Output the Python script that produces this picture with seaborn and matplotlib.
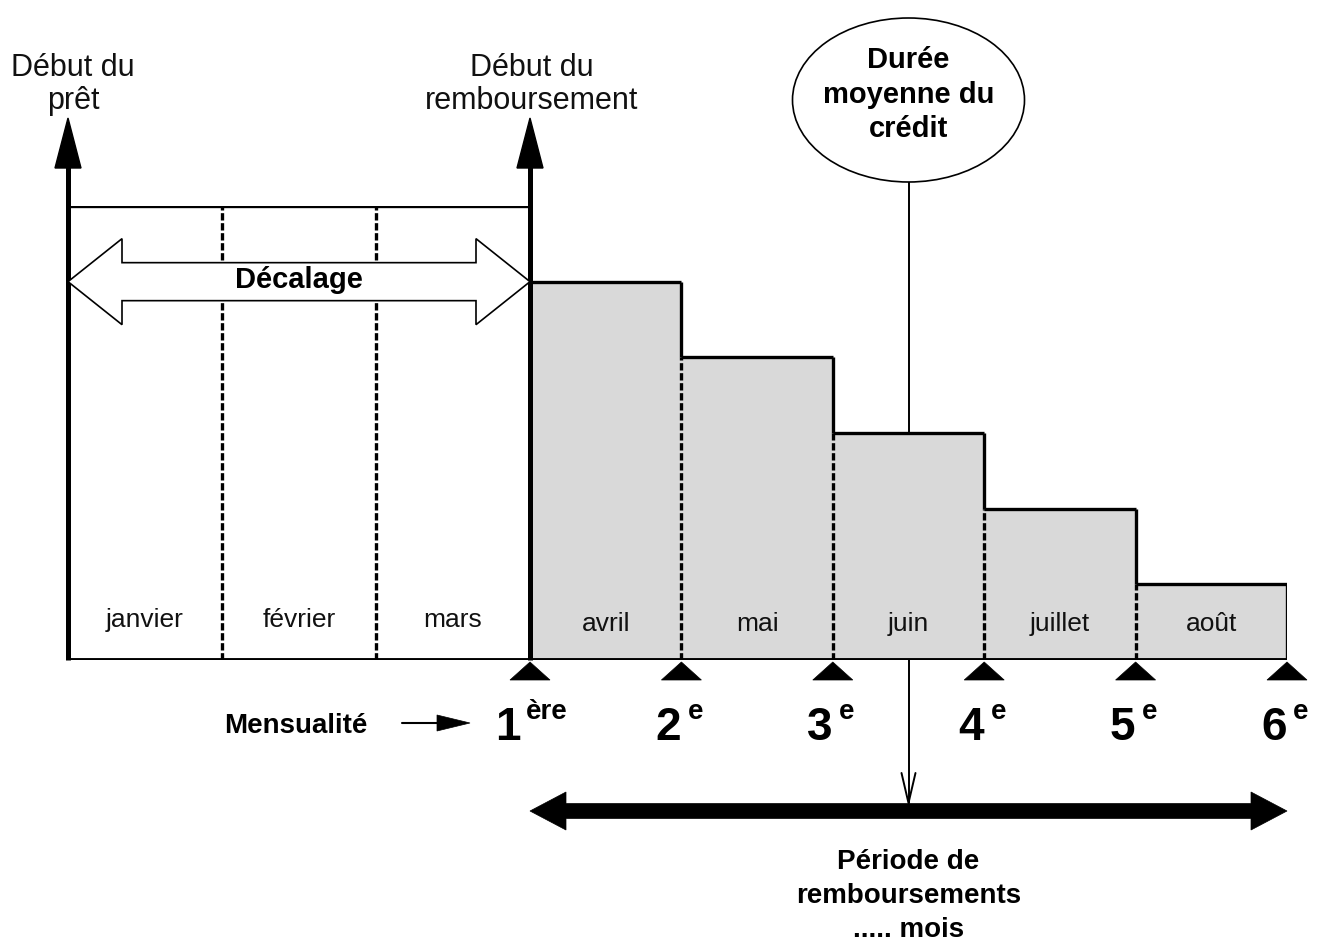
import matplotlib
matplotlib.use("Agg")
import matplotlib.pyplot as plt
from matplotlib.patches import Polygon, Ellipse
import seaborn as sns

# ---------------- data ----------------
delay_months = ["janvier", "février", "mars"]           # période de décalage
repay_months = ["avril", "mai", "juin", "juillet", "août"]
capital = [5, 4, 3, 2, 1]                               # capital restant dû (unités)
frame_height = 6                                        # hauteur du cadre de décalage
ranks = ["1", "2", "3", "4", "5", "6"]
suffixes = ["ère", "e", "e", "e", "e", "e"]

# ---------------- setup ----------------
sns.set_theme(style="white")
plt.rcParams["font.family"] = ["Liberation Sans", "DejaVu Sans"]
plt.rcParams["text.color"] = "black"

W, H = 1335, 944
fig = plt.figure(figsize=(W / 100, H / 100), dpi=100)
fig.patch.set_facecolor("white")

LW = 2.4
dash = (0, (2.2, 0.8))
nd, nr = len(delay_months), len(repay_months)

# delay axes (empty frame)
axd = fig.add_axes([68 / W, (H - 660) / H, 462 / W, 454 / H])
axd.set_xlim(-0.5, nd - 0.5)
axd.set_ylim(0, frame_height)
axd.axis("off")
axd.hlines(frame_height, -0.5, nd - 0.5, color="black", lw=LW, zorder=5)
axd.hlines(0, -0.5, nd - 0.5, color="black", lw=LW + 0.4, zorder=6)
for i in range(1, nd):
    axd.vlines(i - 0.5, 0, frame_height, color="black", lw=LW, linestyles=dash, zorder=4)
for i, m in enumerate(delay_months):
    axd.text(i, 0.53, m, ha="center", va="center", fontsize=19, color="#111111", zorder=7)

# repayment axes (bars)
ax = fig.add_axes([530 / W, (H - 660) / H, 757 / W, 454 / H])
sns.barplot(x=repay_months, y=capital, order=repay_months, color="#d9d9d9", saturation=1,
            width=1, linewidth=0, errorbar=None, ax=ax)
ax.set_xlim(-0.5, nr - 0.5)
ax.set_ylim(0, frame_height)
ax.axis("off")
for i, h in enumerate(capital):
    ax.hlines(h, i - 0.5, i + 0.5, color="black", lw=LW, zorder=5)
ax.hlines(0, -0.5, nr - 0.5, color="black", lw=LW + 0.4, zorder=6)
for i in range(nr - 1):
    hi, lo = capital[i], capital[i + 1]
    ax.vlines(i + 0.5, lo, hi, color="black", lw=LW, zorder=5)
    ax.vlines(i + 0.5, 0, lo, color="black", lw=LW, linestyles=dash, zorder=4)
ax.vlines(nr - 0.5, 0, capital[-1], color="black", lw=LW, zorder=5)
for i, m in enumerate(repay_months):
    ax.text(i, 0.47, m, ha="center", va="center", fontsize=19, color="#111111", zorder=7)

# ---------------- overlay axes in pixels ----------------
ov = fig.add_axes([0, 0, 1, 1])
ov.set_xlim(0, W)
ov.set_ylim(H, 0)
ov.axis("off")
ov.patch.set_alpha(0)


def px(a, x, y):
    d = a.transData.transform((x, y))
    return d[0], H - d[1]


x_start, y_base = px(axd, -0.5, 0)
x_repay, _ = px(ax, -0.5, 0)
x_end, _ = px(ax, nr - 0.5, 0)
_, y_first = px(ax, 0, capital[0])
x_mid, y_mid_top = px(ax, 2, capital[2])

# vertical arrows (début du prêt / début du remboursement)
for xv in (x_start, x_repay):
    ov.plot([xv, xv], [y_base, 165], color="black", lw=3.6, solid_capstyle="butt", zorder=8)
    ov.add_patch(Polygon([[xv, 118], [xv - 13, 168], [xv + 13, 168]], closed=True,
                         fc="black", ec="black", lw=1, zorder=9))

# hollow double arrow "Décalage"
yc = y_first
hl, hh, sh = 54, 43, 19
pts = [[x_start, yc], [x_start + hl, yc - hh], [x_start + hl, yc - sh],
       [x_repay - hl, yc - sh], [x_repay - hl, yc - hh], [x_repay, yc],
       [x_repay - hl, yc + hh], [x_repay - hl, yc + sh], [x_start + hl, yc + sh],
       [x_start + hl, yc + hh]]
ov.add_patch(Polygon(pts, closed=True, fc="white", ec="black", lw=1.2, zorder=10))
ov.text((x_start + x_repay) / 2, yc - 2, "Décalage", ha="center", va="center",
        fontsize=21, fontweight="bold", zorder=11)


def lines(x, ys, texts, **kw):
    for yy, t in zip(ys, texts):
        ov.text(x, yy, t, ha="center", va="center", **kw)


lines(73, [68, 101], ["Début du", "prêt"], fontsize=22, color="#111111")
lines(x_repay + 2, [68, 101], ["Début du", "remboursement"], fontsize=22, color="#111111")

# ellipse + connector
ov.add_patch(Ellipse((x_mid, 100), 232, 164, fc="white", ec="black", lw=1.2, zorder=9))
lines(x_mid, [60, 95, 129], ["Durée", "moyenne du", "crédit"], fontsize=21,
      fontweight="bold", zorder=10)
ov.plot([x_mid, x_mid], [182, y_mid_top], color="black", lw=1.4, zorder=3)
ov.plot([x_mid, x_mid], [y_base, 803], color="black", lw=1.4, zorder=3)
ov.plot([x_mid - 7, x_mid, x_mid + 7], [773, 803, 773], color="black", lw=1.4, zorder=3)

# mensualité triangles and labels
for k, (r, s) in enumerate(zip(ranks, suffixes)):
    xb, _ = px(ax, k - 0.5, 0)
    ov.add_patch(Polygon([[xb, y_base + 2], [xb - 20, y_base + 20], [xb + 20, y_base + 20]],
                         closed=True, fc="black", ec="black", lw=0.5, zorder=9))
    dx = -22 if k == 0 else -13
    ov.text(xb + dx, 740, r, ha="center", va="baseline", fontsize=33, fontweight="bold")
    sx = 17 if k == 0 else 14
    ov.text(xb + sx, 719, s, ha="center", va="baseline", fontsize=20, fontweight="bold")

ov.text(296, 726, "Mensualité", ha="center", va="center", fontsize=20, fontweight="bold")
ov.plot([402, 440], [723, 723], color="black", lw=1.5)
ov.add_patch(Polygon([[437, 715], [470, 723], [437, 731]], closed=True,
                     fc="black", ec="black", lw=0.5))

# thick double arrow at bottom
yc2 = 811
hl2, hh2, sh2 = 36, 19, 7.5
pts2 = [[x_repay, yc2], [x_repay + hl2, yc2 - hh2], [x_repay + hl2, yc2 - sh2],
        [x_end - hl2, yc2 - sh2], [x_end - hl2, yc2 - hh2], [x_end, yc2],
        [x_end - hl2, yc2 + hh2], [x_end - hl2, yc2 + sh2], [x_repay + hl2, yc2 + sh2],
        [x_repay + hl2, yc2 + hh2]]
ov.add_patch(Polygon(pts2, closed=True, fc="black", ec="black", lw=0.5, zorder=8))

lines(x_mid, [862, 896, 930], ["Période de", "remboursements", "..... mois"],
      fontsize=20, fontweight="bold")

fig.savefig("out.png", dpi=100, facecolor="white")
